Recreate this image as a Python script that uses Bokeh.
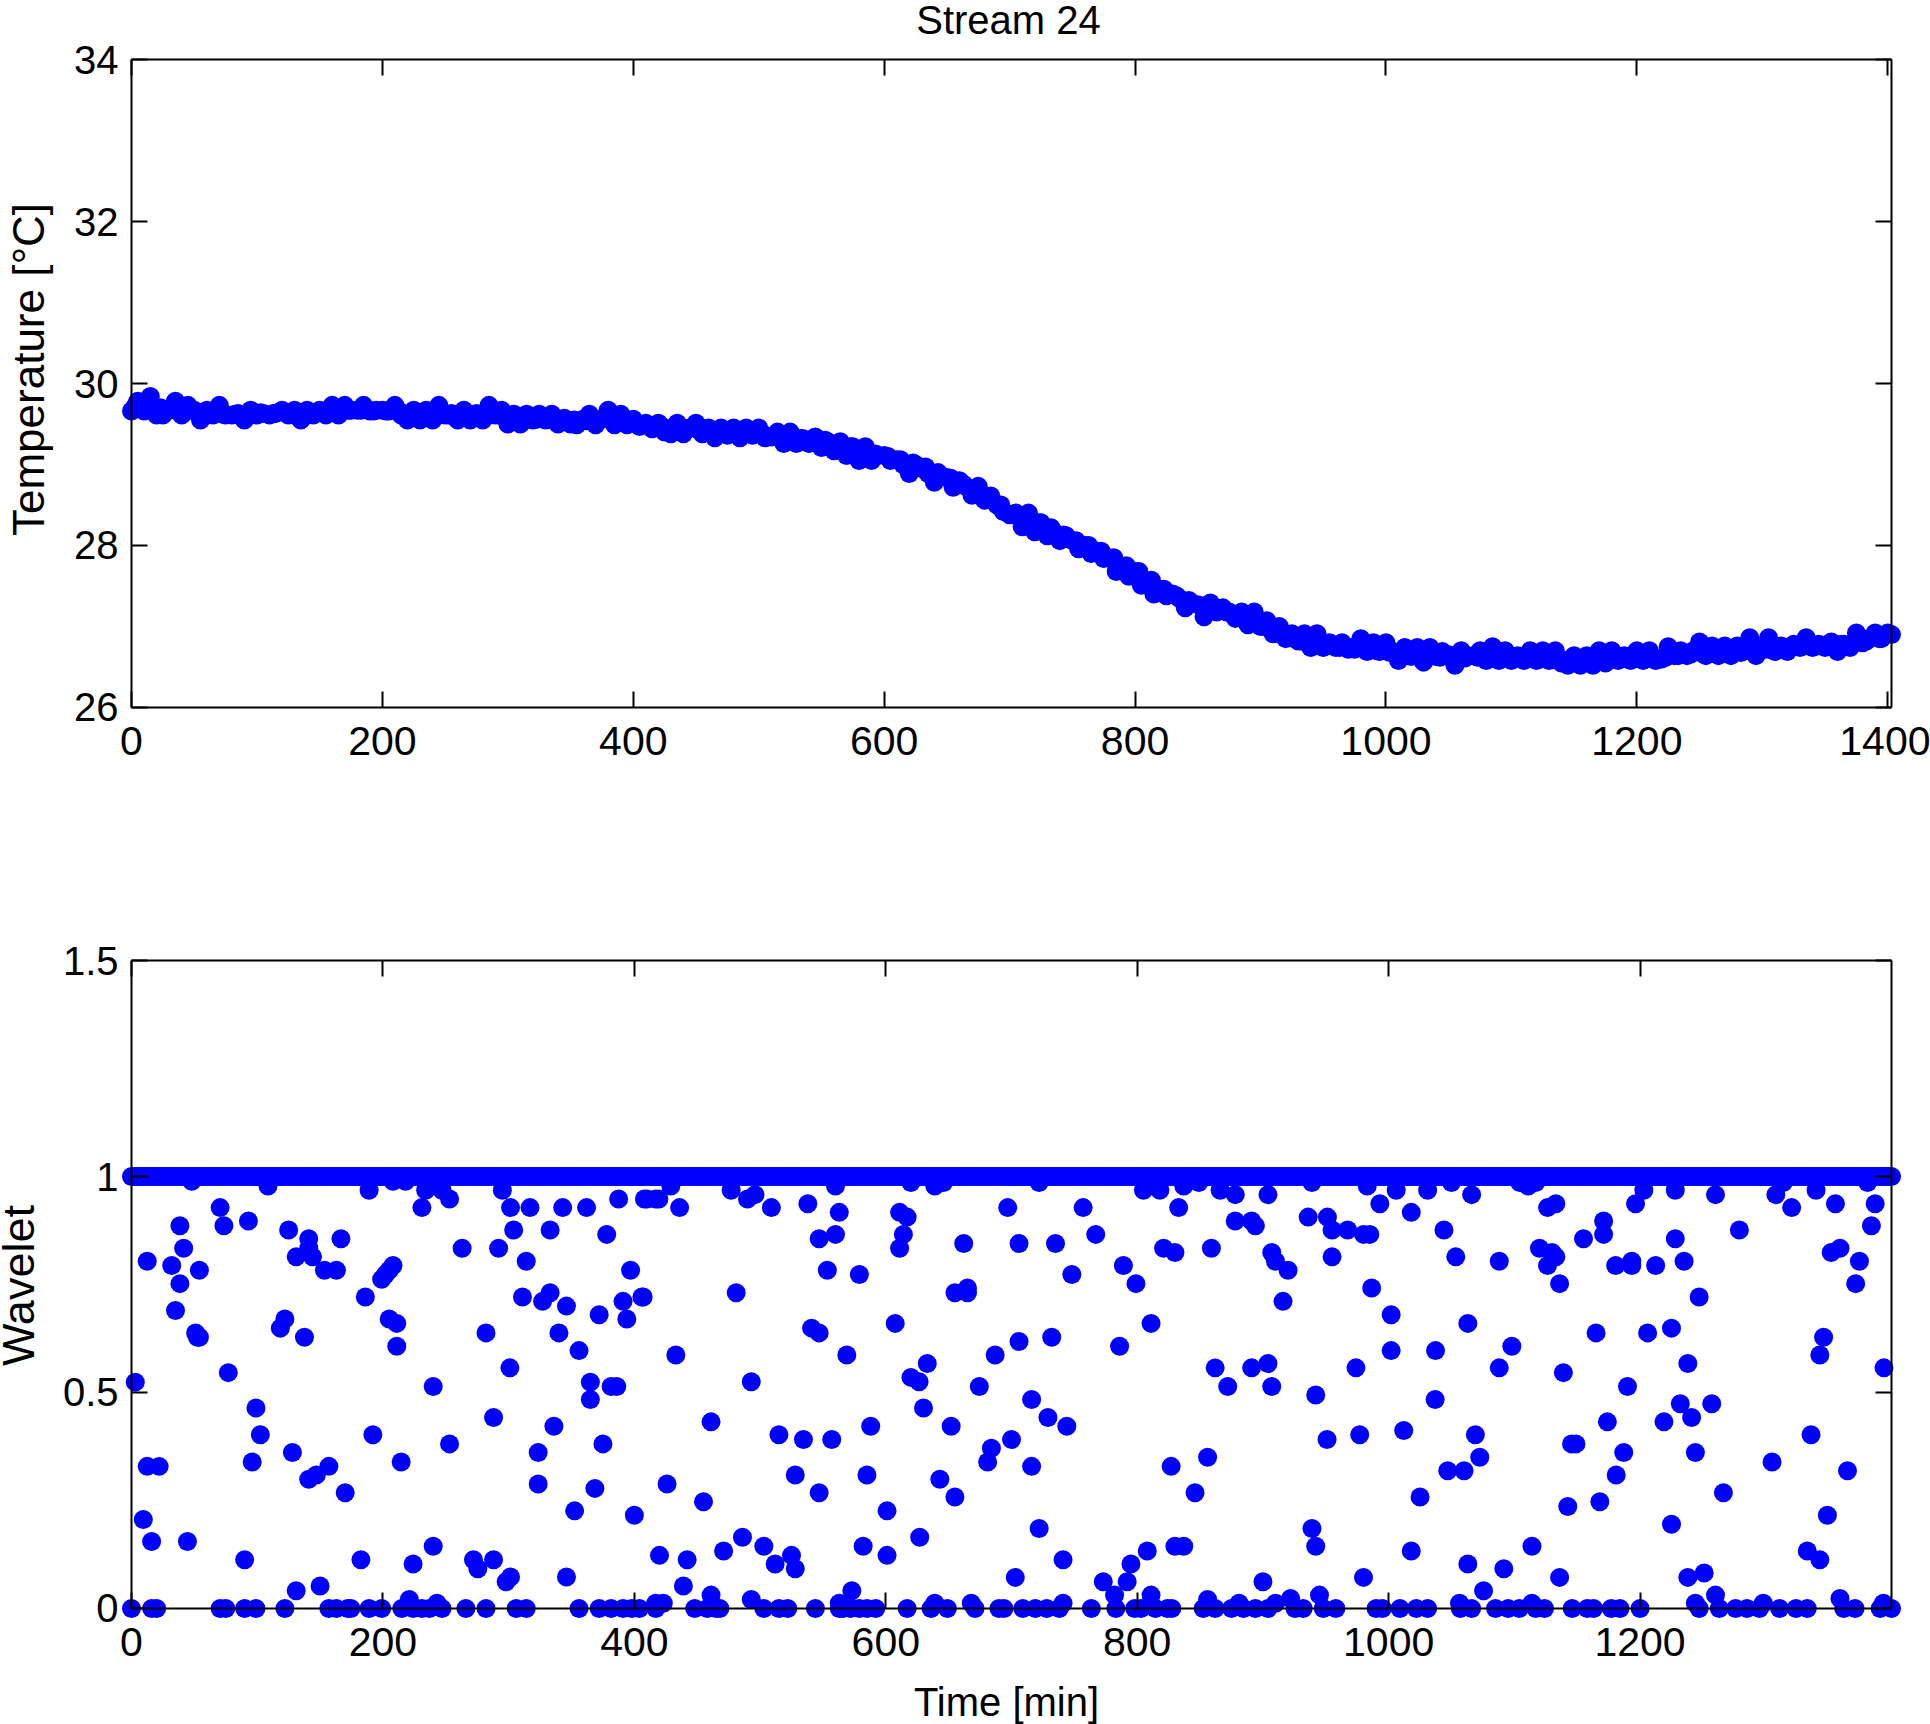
from math import pi

from bokeh.embed import file_html
from bokeh.layouts import column
from bokeh.models import FixedTicker, Label, LinearAxis, Range1d
from bokeh.plotting import figure
from bokeh.resources import INLINE

# stream temperature, one reading every 5 min (last one at 1403)
temp_time = list(range(0, 1401, 5)) + [1403]
temp_value = [
    29.66, 29.78, 29.66, 29.84, 29.61, 29.61, 29.67, 29.78, 29.61, 29.73,
    29.67, 29.55, 29.67, 29.61, 29.73, 29.61, 29.61, 29.63, 29.55, 29.67,
    29.61, 29.63, 29.61, 29.63, 29.67, 29.61, 29.67, 29.55, 29.67, 29.61,
    29.67, 29.61, 29.73, 29.61, 29.73, 29.67, 29.67, 29.73, 29.66, 29.67,
    29.67, 29.66, 29.73, 29.61, 29.55, 29.67, 29.55, 29.67, 29.55, 29.73,
    29.61, 29.63, 29.55, 29.67, 29.55, 29.63, 29.55, 29.73, 29.61, 29.67,
    29.50, 29.62, 29.50, 29.62, 29.55, 29.62, 29.55, 29.62, 29.50, 29.57,
    29.50, 29.49, 29.56, 29.62, 29.49, 29.56, 29.67, 29.49, 29.62, 29.49,
    29.56, 29.47, 29.51, 29.44, 29.51, 29.40, 29.38, 29.51, 29.38, 29.45,
    29.51, 29.38, 29.45, 29.33, 29.45, 29.36, 29.45, 29.33, 29.45, 29.36,
    29.45, 29.33, 29.34, 29.40, 29.26, 29.40, 29.26, 29.32, 29.26, 29.34,
    29.21, 29.28, 29.17, 29.28, 29.11, 29.22, 29.05, 29.22, 29.05, 29.11,
    29.11, 29.05, 29.06, 29.00, 28.89, 29.00, 28.95, 28.89, 28.78, 28.86,
    28.84, 28.72, 28.80, 28.73, 28.62, 28.73, 28.56, 28.61, 28.50, 28.42,
    28.38, 28.40, 28.23, 28.40, 28.17, 28.28, 28.12, 28.17, 28.06, 28.12,
    28.06, 27.96, 28.00, 27.90, 27.93, 27.84, 27.84, 27.68, 27.73, 27.62,
    27.68, 27.51, 27.56, 27.40, 27.46, 27.38, 27.40, 27.35, 27.23, 27.29,
    27.27, 27.12, 27.29, 27.18, 27.23, 27.18, 27.10, 27.18, 27.02, 27.18,
    27.00, 27.07, 26.91, 27.00, 26.85, 26.91, 26.82, 26.91, 26.74, 26.91,
    26.74, 26.80, 26.74, 26.80, 26.72, 26.72, 26.85, 26.69, 26.80, 26.69,
    26.80, 26.69, 26.58, 26.74, 26.63, 26.74, 26.56, 26.74, 26.63, 26.69,
    26.65, 26.52, 26.70, 26.64, 26.64, 26.70, 26.58, 26.75, 26.58, 26.70,
    26.58, 26.64, 26.58, 26.70, 26.58, 26.70, 26.58, 26.70, 26.55, 26.52,
    26.64, 26.52, 26.64, 26.52, 26.70, 26.55, 26.70, 26.58, 26.64, 26.58,
    26.70, 26.58, 26.70, 26.58, 26.60, 26.75, 26.64, 26.70, 26.64, 26.70,
    26.81, 26.64, 26.76, 26.64, 26.76, 26.64, 26.76, 26.70, 26.86, 26.64,
    26.74, 26.86, 26.69, 26.76, 26.69, 26.78, 26.74, 26.86, 26.74, 26.78,
    26.74, 26.81, 26.69, 26.78, 26.74, 26.92, 26.80, 26.85, 26.92, 26.85,
    26.92, 26.90,
]

# readings from the middle of the band, one every 10 min
band_time = list(range(3, 1400, 10))
band_value = [
    29.72, 29.72, 29.70, 29.68, 29.65, 29.63, 29.64, 29.62, 29.62, 29.63,
    29.64, 29.63, 29.64, 29.64, 29.64, 29.65, 29.66, 29.67, 29.67, 29.66,
    29.66, 29.66, 29.62, 29.60, 29.61, 29.61, 29.60, 29.59, 29.60, 29.61,
    29.60, 29.58, 29.56, 29.56, 29.56, 29.55, 29.54, 29.55, 29.56, 29.53,
    29.50, 29.48, 29.47, 29.45, 29.44, 29.42, 29.42, 29.40, 29.40, 29.39,
    29.38, 29.36, 29.35, 29.32, 29.31, 29.30, 29.26, 29.22, 29.17, 29.13,
    29.10, 29.06, 29.02, 28.97, 28.90, 28.83, 28.76, 28.70, 28.60, 28.50,
    28.38, 28.32, 28.28, 28.22, 28.13, 28.06, 28.00, 27.93, 27.85, 27.75,
    27.68, 27.57, 27.46, 27.38, 27.32, 27.25, 27.22, 27.18, 27.12, 27.06,
    27.00, 26.94, 26.86, 26.82, 26.80, 26.78, 26.74, 26.74, 26.72, 26.70,
    26.68, 26.67, 26.64, 26.62, 26.62, 26.60, 26.61, 26.62, 26.62, 26.62,
    26.61, 26.61, 26.60, 26.60, 26.58, 26.58, 26.59, 26.60, 26.60, 26.61,
    26.62, 26.62, 26.62, 26.64, 26.66, 26.66, 26.67, 26.68, 26.68, 26.70,
    26.72, 26.74, 26.75, 26.76, 26.76, 26.76, 26.78, 26.80, 26.82, 26.85,
]

# wavelet coefficients that sit on 1 and on 0
one_time = list(range(0, 1400, 2)) + [1400]
zero_time = [
    0, 16, 20, 70.5, 75, 90, 99, 122, 157, 163, 172, 174.5, 189, 199, 215, 224,
    231, 237, 247, 266, 282, 306, 314, 356, 372, 381.5, 391, 398, 404, 417,
    448, 458, 465, 468, 503, 515, 522, 544, 563, 566, 572, 579, 585, 592, 617,
    636, 649, 671, 690, 694, 709, 719, 728, 738, 763.5, 783, 798, 803, 814.5,
    824, 827.5, 852.5, 862, 875, 884.5, 894, 904, 925.5, 932, 948, 958, 990,
    995, 1009, 1022, 1031, 1057, 1066, 1085, 1095, 1104, 1117, 1124, 1146,
    1158, 1163, 1177, 1184, 1200, 1247, 1263, 1276, 1285, 1295, 1311, 1324,
    1333, 1362, 1371, 1391, 1400,
]

# the scattered coefficients in between
mid_time = [
    3, 12.5, 32, 38.5, 41.5, 38.5, 35, 54, 51, 52.5, 54, 48, 70.5, 73.5, 93,
    108.6, 125, 131, 141, 141, 144, 153.5, 163, 166.6, 118.4, 122, 137.6, 77,
    99, 102.5, 96, 128, 141, 147, 157, 170, 12.5, 22, 9.4, 16, 44.5, 90, 131,
    150, 182.5, 224, 240, 272, 275.5, 288, 298, 301.5, 346, 221, 243, 189, 208,
    218, 234, 247, 253, 231, 263, 295, 301.5, 317, 343, 362, 304, 292, 314,
    333, 378, 387.5, 410, 419.5, 397, 407, 391, 394, 311, 327, 333, 346, 372,
    282, 340, 356, 365, 365, 381.5, 386, 301, 240, 288, 336, 375, 323.5, 323.5,
    368.6, 352.5, 400, 253, 192, 214.5, 186, 199, 202, 205, 208, 205, 211, 211,
    429, 477, 490, 496, 509, 538, 436, 417, 408, 560, 563, 560, 547, 553.5,
    579, 611, 617, 614, 611, 620, 639, 646, 662, 697, 706, 722, 735, 757, 767,
    748, 655, 665, 665, 481, 406, 607.5, 541, 547, 706, 732, 687, 433, 569,
    633, 620, 626.5, 493, 674.4, 630, 716, 729, 744, 652, 588, 461, 515, 534.5,
    557, 700, 684, 681, 716, 528, 585, 426, 547, 455, 643, 655, 601, 722, 486,
    627, 503, 582, 471, 420, 442, 525, 512, 528, 601, 741, 703, 439, 573, 773,
    792, 795, 808, 830, 837, 782, 811, 827, 856, 846, 786, 811, 789, 799, 805,
    818, 837, 849, 866, 833, 821, 830, 859, 878, 904, 878, 891, 894, 907, 910,
    920, 916, 862, 872, 891, 904, 907, 900, 461, 493, 856, 417, 423, 639, 668,
    741, 881, 910, 922, 563, 939, 983, 1006, 1031, 1050, 1066, 993, 1018, 936,
    951.3, 955, 967.4, 980, 985, 1044, 955, 1053.4, 1088, 986.5, 1002, 1063,
    1002, 1037.3, 1098, 974, 1088, 942, 1037, 1012, 1069, 951, 977, 1072.5,
    1047, 1060, 1025, 939, 942, 1018, 1063, 1091.6, 980, 1114, 1075.5, 1136,
    1238, 1251, 1225, 1333, 1343, 1349, 1266.3, 1305, 1365, 1336, 1343, 1346,
    1394, 1257, 1219, 1232, 1241, 1244, 1190, 1174, 1187, 1181, 1168, 1142.5,
    1139, 1145.5, 1149, 1165, 1206, 1225, 1238, 1247, 1120, 1130, 1133, 1126.4,
    1136, 1155, 1171, 1171, 1180.6, 1193.4, 1193.4, 1212.4, 1228, 1235, 1126.4,
    1133, 1111, 1104.3, 1117, 1196.4, 1203, 1228, 1260, 1279, 1308, 1314,
    1320.6, 1340, 1355.4, 1381, 1387, 1384, 1352, 1359, 1374.5, 1371.5, 945,
    1056.4, 1114, 1244, 1260, 1298, 1359, 1393.6,
]
mid_value = [
    .524, .804, .794, .886, .834, .752, .690, .783, .638, .628, .628, .989,
    .928, .886, .897, .978, .876, .814, .856, .834, .814, .783, .783, .856,
    .649, .670, .628, .546, .464, .402, .339, .361, .299, .309, .329, .268,
    .329, .329, .206, .155, .155, .113, .041, .052, .113, .103, .144, .113,
    .092, .113, .062, .073, .073, .021, .012, .968, .989, .989, .968, .968,
    .948, .928, .834, .968, .928, .928, .928, .928, .876, .834, .804, .876,
    .866, .948, .948, .948, .783, .721, .711, .670, .721, .711, .731, .700,
    .680, .638, .638, .597, .524, .484, .514, .514, .557, .514, .442, .422,
    .381, .361, .288, .278, .226, .216, .381, .402, .339, .721, .762, .773,
    .783, .794, .670, .660, .607, .978, .968, .948, .958, .928, .937, .928,
    .948, .948, .978, .917, .866, .856, .783, .773, .917, .906, .866, .834,
    .986, .978, .986, .845, .928, .845, .986, .845, .928, .866, .773, .731,
    .731, .742, .731, .721, .660, .649, .638, .618, .628, .587, .587, .587,
    .567, .535, .525, .525, .514, .464, .484, .442, .422, .422, .422, .432,
    .402, .391, .391, .391, .371, .339, .329, .309, .309, .288, .268, .247,
    .299, .258, .226, .185, .165, .165, .144, .144, .133, .123, .113, .123,
    .103, .092, .123, .113, .072, .052, .041, .062, .062, .103, .133, .144,
    .144, .031, .031, .329, .350, .268, .607, .660, .794, .752, .968, .968,
    .978, .986, .968, .928, .834, .824, .834, .958, .958, .897, .897, .886,
    .824, .804, .783, .711, .557, .514, .557, .567, .514, .062, .031, .021,
    .021, .012, .012, .012, .012, .012, .012, .012, .023, .012, .986, .978,
    .968, .968, .986, .958, .937, .917, .906, .906, .876, .876, .866, .866,
    .876, .814, .814, .804, .742, .680, .660, .597, .597, .607, .557, .557,
    .494, .484, .412, .402, .391, .402, .350, .319, .319, .258, .185, .144,
    .133, .103, .092, .072, .144, .041, .072, .072, .082, .195, .133, .113,
    .216, .268, .339, .319, .402, .587, .628, .557, .474, .432, .474, .442,
    .361, .514, .432, .361, .309, .247, .236, .546, .381, .381, .638, .638,
    .649, .567, .721, .834, .824, .814, .794, .752, .856, .897, .866, .794,
    .804, .794, .794, .856, .804, .928, .937, .978, .986, .986, .937, .968,
    .968, .958, .876, .958, .986, .928, .968, .937, .986, .937, .886, .824,
    .834, .804, .752, .031, .012, .012, .012, .031, .012, .023, .012,
]

temp_ticks_x = [0, 200, 400, 600, 800, 1000, 1200, 1400]
temp_ticks_y = [26, 28, 30, 32, 34]
wave_ticks_x = [0, 200, 400, 600, 800, 1000, 1200]
wave_ticks_y = [0, 0.5, 1, 1.5]
wave_tick_labels = {0: "0", 0.5: "0.5", 1: "1", 1.5: "1.5"}

FONT = "Liberation Sans"
BLUE = "#0000ff"
DOT = 19
PAD = 12  # frame is a bit larger than the axes box so markers are not cut off
BOX_W = 1760
BOX_H = 647.6


def make_axes(xmax, ymin, ymax, xticks, yticks, height, top, bottom, ylabels=None):
    dx = PAD * xmax / BOX_W
    dy = PAD * (ymax - ymin) / BOX_H
    p = figure(width=1930, height=height, frame_width=BOX_W + 2 * PAD, frame_height=672,
               x_range=Range1d(-dx, xmax + dx), y_range=Range1d(ymin - dy, ymax + dy),
               x_axis_location=None, y_axis_location=None,
               min_border_left=119, min_border_right=27, min_border_top=top, min_border_bottom=bottom,
               output_backend="svg", toolbar_location=None, border_fill_color=None)
    p.grid.visible = False
    p.outline_line_color = None

    # the box and its inward ticks, pinned inside the frame
    for side, fixed, ticker, bounds in [
        ("below", ymin, xticks, (0, xmax)),
        ("above", ymax, xticks, (0, xmax)),
        ("left", 0, yticks, (ymin, ymax)),
        ("right", xmax, yticks, (ymin, ymax)),
    ]:
        axis = LinearAxis(fixed_location=fixed, ticker=FixedTicker(ticks=ticker), bounds=bounds)
        axis.axis_line_color = "black"
        axis.axis_line_width = 2
        axis.major_tick_line_color = "black"
        axis.major_tick_line_width = 2
        axis.major_tick_in = 16
        axis.major_tick_out = 0
        axis.minor_tick_line_color = None
        axis.major_label_text_color = None
        p.add_layout(axis, side)

    # pinned axes clip their labels to the frame, so the labels come from plain axes
    for side, ticker, standoff, size, overrides in [
        ("below", xticks, 7, "41px", {}),
        ("left", yticks, 1, "40px", ylabels or {}),
    ]:
        axis = LinearAxis(ticker=FixedTicker(ticks=ticker), major_label_overrides=overrides)
        axis.axis_line_color = None
        axis.major_tick_line_color = None
        axis.minor_tick_line_color = None
        axis.major_tick_in = 0
        axis.major_tick_out = 0
        axis.major_label_text_font = FONT
        axis.major_label_text_font_size = size
        axis.major_label_text_color = "black"
        axis.major_label_standoff = standoff
        p.add_layout(axis, side)
    return p


def text(p, side, x, y, s, size, angle=0):
    # a label inside a side panel is not clipped to the frame
    p.add_layout(Label(x=x, y=y, x_units="canvas", y_units="canvas", text=s, angle=angle,
                       text_font=FONT, text_font_size=size, text_color="black",
                       text_align="center", text_baseline="alphabetic"), side)


p1 = make_axes(1403, 26, 34, temp_ticks_x, temp_ticks_y, 830, 47, 111)
p1.scatter(temp_time, temp_value, size=DOT, color=BLUE, line_color=None)
p1.scatter(band_time, band_value, size=DOT, color=BLUE, line_color=None)
text(p1, "above", 1008, 19, "Stream 24", "40px")
text(p1, "left", 28, 369, "Temperature [°C]", "44px", pi / 2)

p2 = make_axes(1400, 0, 1.5, wave_ticks_x, wave_ticks_y, 894, 118, 104, wave_tick_labels)
p2.scatter(one_time, [1] * len(one_time), size=DOT, color=BLUE, line_color=None)
p2.scatter(zero_time, [0] * len(zero_time), size=DOT, color=BLUE, line_color=None)
p2.scatter(mid_time, mid_value, size=DOT, color=BLUE, line_color=None)
text(p2, "below", 1006, 871, "Time [min]", "40px")
text(p2, "left", 18, 455, "Wavelet", "45px", pi / 2)

page = column(p1, p2, spacing=0)
open("out.html", "w").write(file_html(page, INLINE))
